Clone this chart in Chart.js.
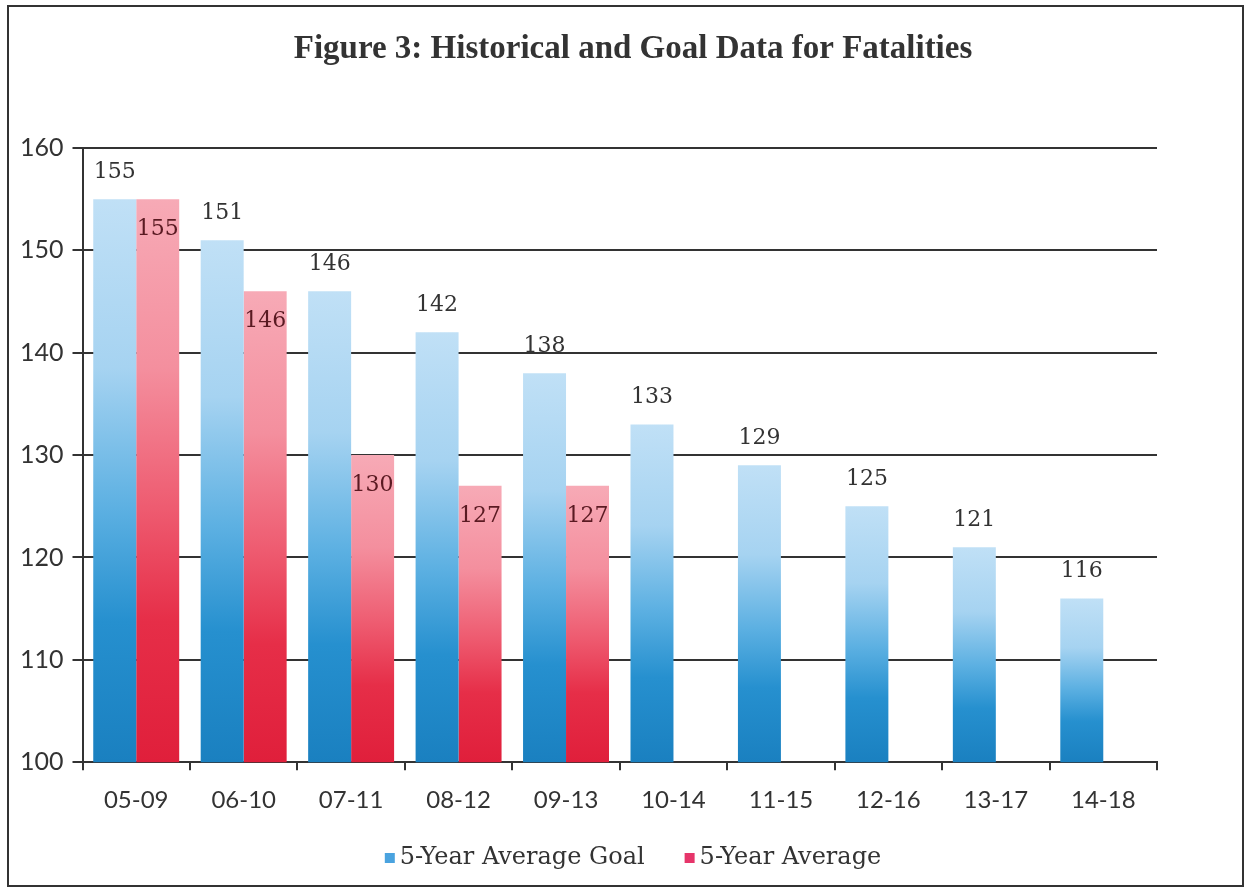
<!DOCTYPE html>
<html>
<head>
<meta charset="utf-8">
<script src="https://cdn.jsdelivr.net/npm/chart.js@4/dist/chart.umd.min.js"></script>
<style>
    body { margin: 0; background: #fff; }
    .chart { position: relative; width: 1249px; height: 892px; }
</style>
</head>
<body>
<div class="chart"><canvas id="fatalChart"></canvas></div>
<script>
const titleText = 'Figure 3: Historical and Goal Data for Fatalities';
const periods = ['05-09', '06-10', '07-11', '08-12', '09-13', '10-14', '11-15', '12-16', '13-17', '14-18'];
const goalValues = [155, 151, 146, 142, 138, 133, 129, 125, 121, 116];
const avgValues = [155, 146, 130, 127, 127, null, null, null, null, null];
const yTicks = [100, 110, 120, 130, 140, 150, 160];
const seriesNames = ['5-Year Average Goal', '5-Year Average'];

// gradient for one bar, top light -> bottom dark
function barGradient(context, stops) {
    const chart = context.chart;
    const v = context.raw;
    if (!chart.chartArea || v == null) {
        return stops[stops.length - 1][1];
    }
    const y = chart.scales.y;
    const top = y.getPixelForValue(v);
    const bottom = y.getPixelForValue(100);
    const g = chart.ctx.createLinearGradient(0, top, 0, bottom);
    stops.forEach(s => g.addColorStop(s[0], s[1]));
    return g;
}

const blueStops = [[0, '#c0e0f6'], [0.3, '#a6d3f1'], [0.55, '#5cb0e2'], [0.75, '#2690cf'], [1, '#1a80c0']];
const redStops = [[0, '#f7aab6'], [0.3, '#f48f9e'], [0.55, '#ee5b70'], [0.75, '#e62e48'], [1, '#e01f3b']];
const legendColors = ['#4aa3df', '#e6356a'];

// frame, title and legend of the figure
const framePlugin = {
    id: 'frame',
    beforeDraw(chart) {
        const c = chart.ctx;
        c.save();
        c.strokeStyle = '#333';
        c.lineWidth = 2;
        c.strokeRect(8, 6, chart.width - 14, chart.height - 12);
        c.restore();
    },
    afterDraw(chart) {
        const c = chart.ctx;
        const cx = 633;
        c.save();
        c.fillStyle = '#333';
        c.textBaseline = 'middle';
        c.textAlign = 'center';
        c.font = 'bold 33px "Liberation Serif", serif';
        c.fillText(titleText, cx, 49);

        // legend
        c.font = '24px "DejaVu Serif", serif';
        c.textAlign = 'left';
        const box = 10, gap = 5, between = 40;
        const widths = seriesNames.map(n => c.measureText(n).width);
        const total = widths[0] + widths[1] + 2 * (box + gap) + between;
        let x = cx - total / 2;
        const y = 858;
        seriesNames.forEach((n, i) => {
            c.fillStyle = legendColors[i];
            c.fillRect(x, y - box / 2, box, box);
            c.fillStyle = '#333';
            c.fillText(n, x + box + gap, y);
            x += box + gap + widths[i] + between;
        });
        c.restore();
    }
};

// value labels on bars
const labelPlugin = {
    id: 'barLabels',
    afterDatasetsDraw(chart) {
        const c = chart.ctx;
        c.save();
        c.font = '22px "DejaVu Serif", serif';
        c.textAlign = 'center';
        c.textBaseline = 'middle';
        chart.data.datasets.forEach((ds, i) => {
            const meta = chart.getDatasetMeta(i);
            meta.data.forEach((bar, j) => {
                const v = ds.data[j];
                if (v == null) return;
                if (i === 0) {
                    c.fillStyle = '#333';
                    c.fillText(String(v), bar.x, bar.y - 27);
                } else {
                    c.fillStyle = '#5a1a22';
                    c.fillText(String(v), bar.x, bar.y + 30);
                }
            });
        });
        c.restore();
    }
};

const ctx = document.getElementById('fatalChart');
new Chart(ctx, {
    type: 'bar',
    data: {
        labels: periods,
        datasets: [
            {
                label: seriesNames[0],
                data: goalValues,
                backgroundColor: (context) => barGradient(context, blueStops),
                borderWidth: 0,
                categoryPercentage: 0.8,
                barPercentage: 1,
            },
            {
                label: seriesNames[1],
                data: avgValues,
                backgroundColor: (context) => barGradient(context, redStops),
                borderWidth: 0,
                categoryPercentage: 0.8,
                barPercentage: 1,
            },
        ]
    },
    options: {
        responsive: true,
        maintainAspectRatio: false,
        animation: false,
        layout: {
            padding: { left: 11, right: 92, top: 148, bottom: 61 }
        },
        scales: {
            x: {
                border: { display: true, color: '#333', width: 2 },
                grid: {
                    display: true,
                    drawOnChartArea: false,
                    offset: true,
                    tickLength: 8,
                    color: '#333',
                    lineWidth: 2,
                },
                ticks: {
                    color: '#333',
                    padding: 16,
                    font: { size: 24, family: 'Lato' }
                }
            },
            y: {
                min: 100,
                max: 160,
                afterBuildTicks: (scale) => {
                    scale.ticks = yTicks.map(v => ({ value: v }));
                },
                border: { display: true, color: '#333', width: 2 },
                grid: {
                    color: '#333',
                    lineWidth: 2,
                    tickLength: 10,
                },
                ticks: {
                    color: '#333',
                    padding: 9,
                    font: { size: 25, family: 'Lato' }
                }
            }
        },
        plugins: {
            title: { display: false },
            legend: { display: false },
            tooltip: { enabled: false }
        }
    },
    plugins: [framePlugin, labelPlugin]
});
</script>
</body>
</html>
